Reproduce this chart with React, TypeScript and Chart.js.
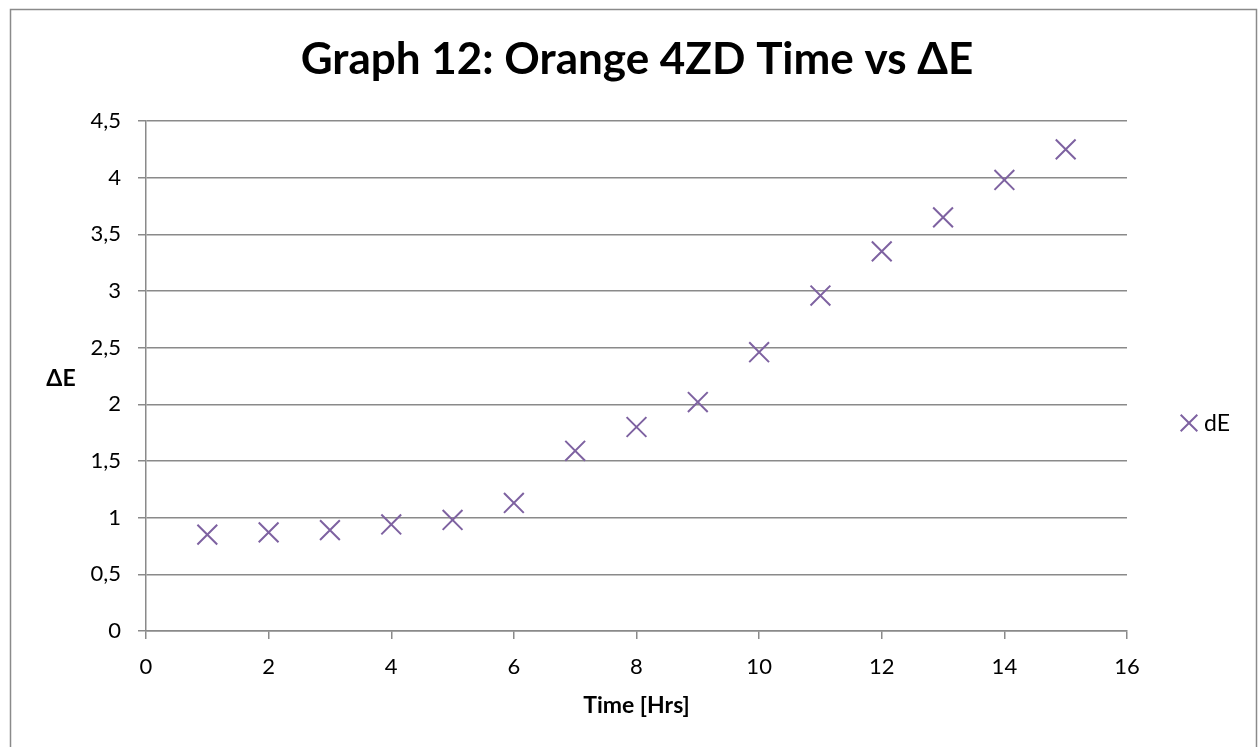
import React, { useEffect, useRef } from "react";
import { Chart, registerables } from "chart.js";

Chart.register(...registerables);

const chartTitle = "Graph 12: Orange 4ZD Time vs ΔE";
const xAxisTitle = "Time [Hrs]";
const yAxisTitle = "ΔE";
const seriesName = "dE";

const timeHrs = [1, 2, 3, 4, 5, 6, 7, 8, 9, 10, 11, 12, 13, 14, 15];
const deltaE = [0.85, 0.87, 0.89, 0.94, 0.98, 1.13, 1.59, 1.8, 2.02, 2.46, 2.96, 3.35, 3.65, 3.98, 4.25];

const xMin = 0;
const xMax = 16;
const xStep = 2;
const yMin = 0;
const yMax = 4.5;
const yStep = 0.5;

const FONT = "Lato, 'Noto Sans', sans-serif";
const GRID = "#8a8a8a";
const PURPLE = "#7E62A1";

const decorPlugin = {
  id: "decor",
  afterDraw(chart: any) {
    const ctx = chart.ctx as CanvasRenderingContext2D;
    const area = chart.chartArea;
    ctx.save();
    // outer border
    ctx.strokeStyle = GRID;
    ctx.lineWidth = 1.5;
    ctx.strokeRect(10.5, 9.5, 1246, 760);

    ctx.fillStyle = "#000";
    // title
    ctx.font = `bold 44px ${FONT}`;
    ctx.textAlign = "center";
    ctx.textBaseline = "alphabetic";
    ctx.fillText(chartTitle, 637, 74);

    // x axis title
    ctx.font = `bold 23px ${FONT}`;
    ctx.fillText(xAxisTitle, (area.left + area.right) / 2, 713);

    // y axis title (horizontal)
    ctx.font = `bold 23px ${FONT}`;
    ctx.fillText(yAxisTitle, 61, 386);

    // legend
    const ds = chart.data.datasets[0];
    const mx = 1189;
    const my = 423;
    const h = 8.3;
    ctx.strokeStyle = ds.borderColor;
    ctx.lineWidth = 2;
    ctx.beginPath();
    ctx.moveTo(mx - h, my - h);
    ctx.lineTo(mx + h, my + h);
    ctx.moveTo(mx - h, my + h);
    ctx.lineTo(mx + h, my - h);
    ctx.stroke();
    ctx.font = `23px ${FONT}`;
    ctx.textAlign = "left";
    ctx.fillText(ds.label, 1204, 431);
    ctx.restore();
  },
};

export default function App() {
  const ref = useRef<HTMLCanvasElement | null>(null);

  useEffect(() => {
    if (!ref.current) return;
    Chart.defaults.font.family = FONT;
    const chart = new Chart(ref.current, {
      type: "scatter",
      data: {
        datasets: [
          {
            label: seriesName,
            data: timeHrs.map((x, i) => ({ x, y: deltaE[i] })),
            pointStyle: "crossRot",
            pointRadius: 14,
            pointHoverRadius: 14,
            borderWidth: 2,
            borderColor: PURPLE,
            backgroundColor: PURPLE,
          },
        ],
      },
      options: {
        responsive: false,
        animation: false,
        events: [],
        layout: { padding: { left: 0, top: 121, right: 131, bottom: 56 } },
        plugins: {
          legend: { display: false },
          title: { display: false },
          tooltip: { enabled: false },
        },
        scales: {
          x: {
            type: "linear",
            min: xMin,
            max: xMax,
            afterFit: (s: any) => {
              s.height = 60;
            },
            ticks: {
              stepSize: xStep,
              color: "#000",
              font: { size: 22 },
              padding: 15,
              maxRotation: 0,
            },
            grid: {
              drawOnChartArea: false,
              drawTicks: true,
              tickLength: 8,
              color: GRID,
              lineWidth: 1.5,
            },
            border: { display: true, color: GRID, width: 1.5 },
          },
          y: {
            type: "linear",
            min: yMin,
            max: yMax,
            afterFit: (s: any) => {
              s.width = 146;
            },
            ticks: {
              stepSize: yStep,
              color: "#000",
              font: { size: 22 },
              padding: 17,
              callback: (v: any) => String(v).replace(".", ","),
            },
            grid: {
              drawTicks: true,
              tickLength: 8,
              color: GRID,
              lineWidth: 1.5,
            },
            border: { display: true, color: GRID, width: 1.5 },
          },
        },
      },
      plugins: [decorPlugin],
    });
    return () => chart.destroy();
  }, []);

  return (
    <div style={{ position: "fixed", left: 0, top: 0, width: 1258, height: 747, background: "#fff" }}>
      <canvas ref={ref} width={1258} height={747} />
    </div>
  );
}
